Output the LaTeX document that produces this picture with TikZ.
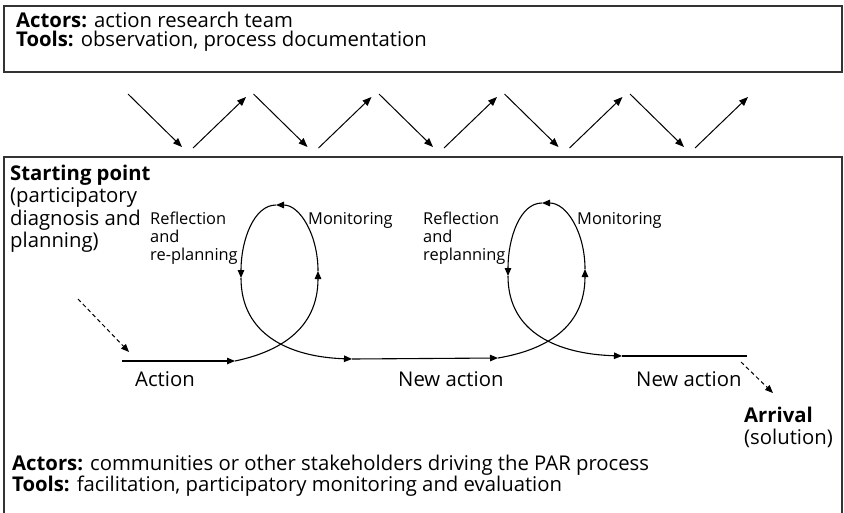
\documentclass[tikz,border=0pt]{standalone}
\usepackage{fontspec}
\setmainfont{Open Sans}
\usetikzlibrary{arrows.meta}
\begin{document}
\begin{tikzpicture}[x=1pt,y=-1pt,
  frame/.style={draw=black!80,line width=1.3pt},
  flow/.style={line width=1.1pt},
  tip/.style={-{Triangle[length=8pt,width=6.5pt]}},
  zig/.style={line width=1pt,-{Triangle[length=9pt,width=7pt]}},
  dasharrow/.style={line width=1pt,dash pattern=on 4pt off 3pt,-{Triangle[length=8pt,width=6.5pt]}},
  lbl/.style={anchor=base west,inner sep=0pt,font=\fontsize{20.3}{22}\selectfont},
  small/.style={anchor=base west,inner sep=0pt,font=\fontsize{16.4}{18}\selectfont}
]
\useasboundingbox (0,0) rectangle (844,512);
% boxes
\draw[frame] (4,6) rectangle (842,72);
\draw[frame] (4,157) rectangle (842,530);
% top box text
\node[lbl] (ta) at (16,27) {\textbf{Actors:} action research team};
\node[lbl] (tt) at (16,46) {\textbf{Tools:} observation, process documentation};
% zigzag arrows
\foreach \k in {0,...,4}{
  \coordinate (ds\k) at (128+125.5*\k,94);
  \coordinate (de\k) at (182+125.5*\k,147);
  \coordinate (us\k) at (193+125.5*\k,148);
  \coordinate (ue\k) at (246+125.5*\k,97);
  \draw[zig] (ds\k) -- (de\k);
  \draw[zig] (us\k) -- (ue\k);
}
% starting point text
\node[lbl] (sp1) at (10,180) {\textbf{Starting point}};
\node[lbl] (sp2) at (10,202.5) {(participatory};
\node[lbl] (sp3) at (10,225) {diagnosis and};
\node[lbl] (sp4) at (10,247.5) {planning)};
% main flow coordinates
\coordinate (s0) at (122,361);
\coordinate (a1) at (235,361);
\coordinate (r1) at (318,271);
\coordinate (t1) at (276,205);
\coordinate (l1) at (241,278);
\coordinate (b1) at (352,359);
\coordinate (a2) at (498,358);
\coordinate (r2) at (585,269);
\coordinate (t2) at (542,203);
\coordinate (l2) at (508,276);
\coordinate (b2) at (622,356);
\coordinate (e0) at (747,356);
% loop 1
\draw[flow,tip] (s0) -- (a1);
\draw[flow,tip] (a1) .. controls (278,352) and (318,330) .. (r1);
\draw[flow,tip] (r1) .. controls (318,235) and (300,205) .. (t1);
\draw[flow,tip] (t1) .. controls (254,205) and (241,240) .. (l1);
\draw[flow,tip] (l1) .. controls (241,335) and (290,357) .. (b1);
\draw[flow,tip] (b1) -- (a2);
% loop 2
\draw[flow,tip] (a2) .. controls (545,350) and (585,328) .. (r2);
\draw[flow,tip] (r2) .. controls (585,233) and (567,203) .. (t2);
\draw[flow,tip] (t2) .. controls (520,203) and (508,238) .. (l2);
\draw[flow,tip] (l2) .. controls (508,333) and (558,354) .. (b2);
\draw[flow] (b2) -- (e0);
% dashed arrows
\coordinate (dsa) at (78,299);
\coordinate (dea) at (129,352);
\coordinate (dsb) at (741,362);
\coordinate (deb) at (773,393);
\draw[dasharrow] (dsa) -- (dea);
\draw[dasharrow] (dsb) -- (deb);
% loop labels
\node[small] (rf1) at (150,224) {Reflection};
\node[small] (rf2) at (150,242) {and};
\node[small] (rf3) at (150,260) {re-planning};
\node[small] (mo1) at (308,224) {Monitoring};
\node[small] (rg1) at (423,224) {Reflection};
\node[small] (rg2) at (423,242) {and};
\node[small] (rg3) at (423,260) {replanning};
\node[small] (mo2) at (577,224) {Monitoring};
% action labels
\node[lbl] (ac1) at (135,386) {Action};
\node[lbl] (ac2) at (398,386) {New action};
\node[lbl] (ac3) at (636,386) {New action};
\node[lbl] (ar1) at (744,422) {\textbf{Arrival}};
\node[lbl] (ar2) at (744,444) {(solution)};
% bottom text
\node[lbl] (ba) at (12,470) {\textbf{Actors:} communities or other stakeholders driving the PAR process};
\node[lbl] (bt) at (12,491) {\textbf{Tools:} facilitation, participatory monitoring and evaluation};
\end{tikzpicture}
\end{document}
